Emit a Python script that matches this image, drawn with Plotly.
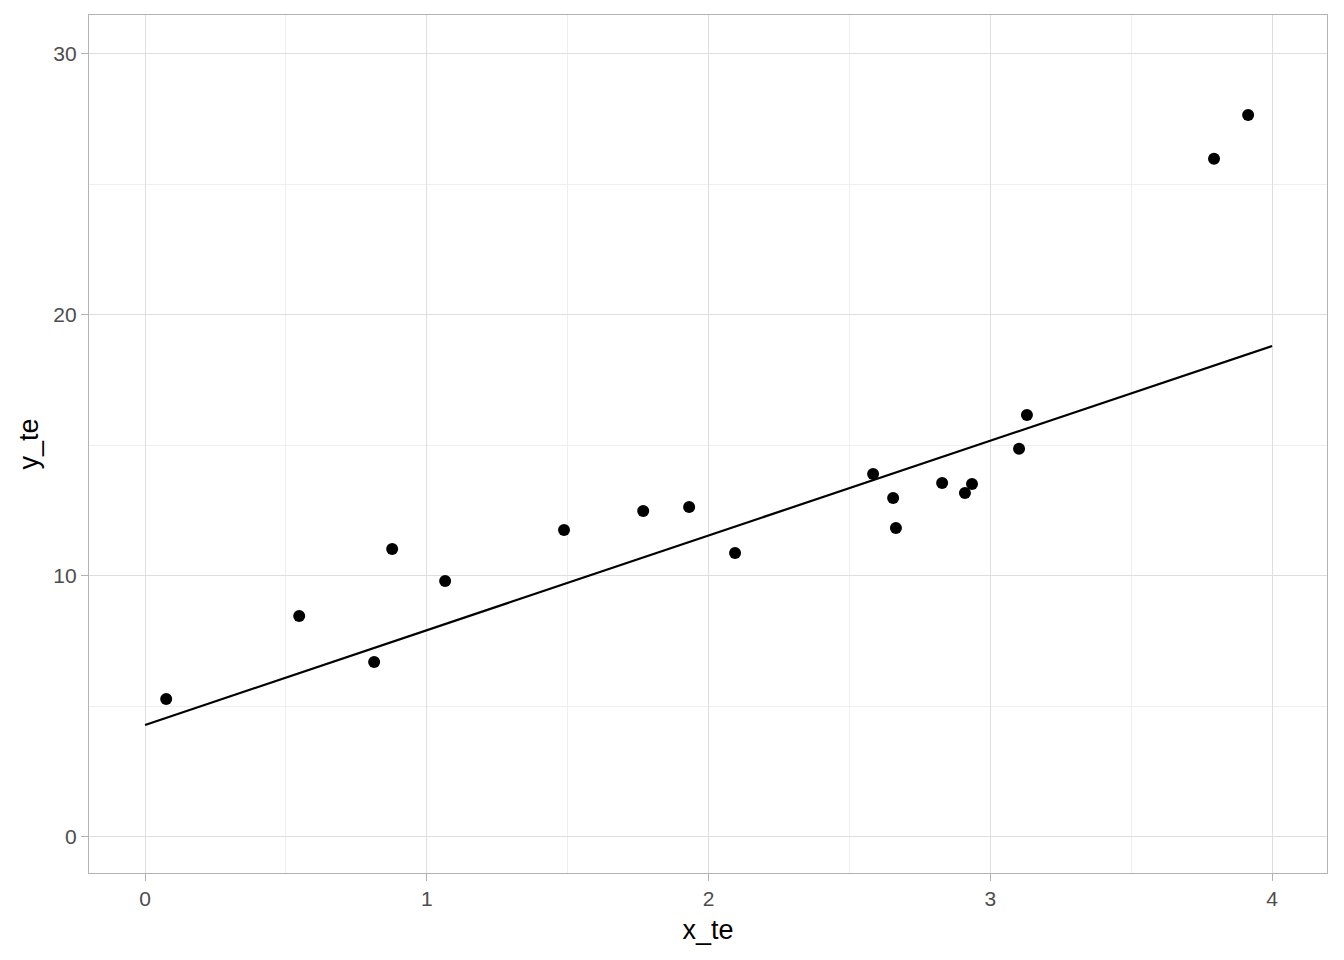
from plotly import graph_objects as go

x_te = [0.075, 0.547, 0.813, 0.877, 1.065, 1.487, 1.768, 1.931, 2.094, 2.584,
        2.655, 2.665, 2.829, 2.910, 2.935, 3.102, 3.130, 3.794, 3.915]
y_te = [5.29, 8.47, 6.70, 11.03, 9.81, 11.76, 12.49, 12.64, 10.88, 13.91,
        12.99, 11.84, 13.56, 13.18, 13.52, 14.87, 16.17, 25.98, 27.66]

# fitted line end points
line_x = [0, 4]
line_y = [4.29, 18.81]

fig = go.Figure()
fig.add_trace(go.Scatter(x=line_x, y=line_y, mode='lines',
                         line=dict(color='black', width=2.2), showlegend=False))
fig.add_trace(go.Scatter(x=x_te, y=y_te, mode='markers',
                         marker=dict(color='black', size=12), showlegend=False))

axis_style = dict(
    showline=True, mirror=True, linecolor='#B3B3B3', linewidth=1.2,
    showgrid=True, gridcolor='#DEDEDE', gridwidth=1.1,
    zeroline=False, automargin=False,
    ticks='outside', ticklen=7, tickcolor='#B3B3B3', tickwidth=1.2,
    tickfont=dict(family='Liberation Sans, Arial', size=21, color='#4D4D4D'),
    title_font=dict(family='Liberation Sans, Arial', size=27, color='black'),
)

fig.update_xaxes(range=[-0.199, 4.195], tickvals=[0, 1, 2, 3, 4], title_text='x_te',
                 title_standoff=10,
                 minor=dict(tickvals=[0.5, 1.5, 2.5, 3.5], showgrid=True,
                            gridcolor='#EFEFEF', gridwidth=0.8, ticklen=0),
                 **axis_style)
fig.update_yaxes(range=[-1.38, 31.49], tickvals=[0, 10, 20, 30], title_text='y_te',
                 title_standoff=6,
                 minor=dict(tickvals=[5, 15, 25], showgrid=True,
                            gridcolor='#EFEFEF', gridwidth=0.8, ticklen=0),
                 **axis_style)

# page body has an 8px margin, so the figure is shrunk to fit the window
fig.update_layout(
    width=1336, height=952,
    plot_bgcolor='white', paper_bgcolor='white',
    margin=dict(l=81, r=17, t=7, b=87),
)

fig.write_html("out.html")
